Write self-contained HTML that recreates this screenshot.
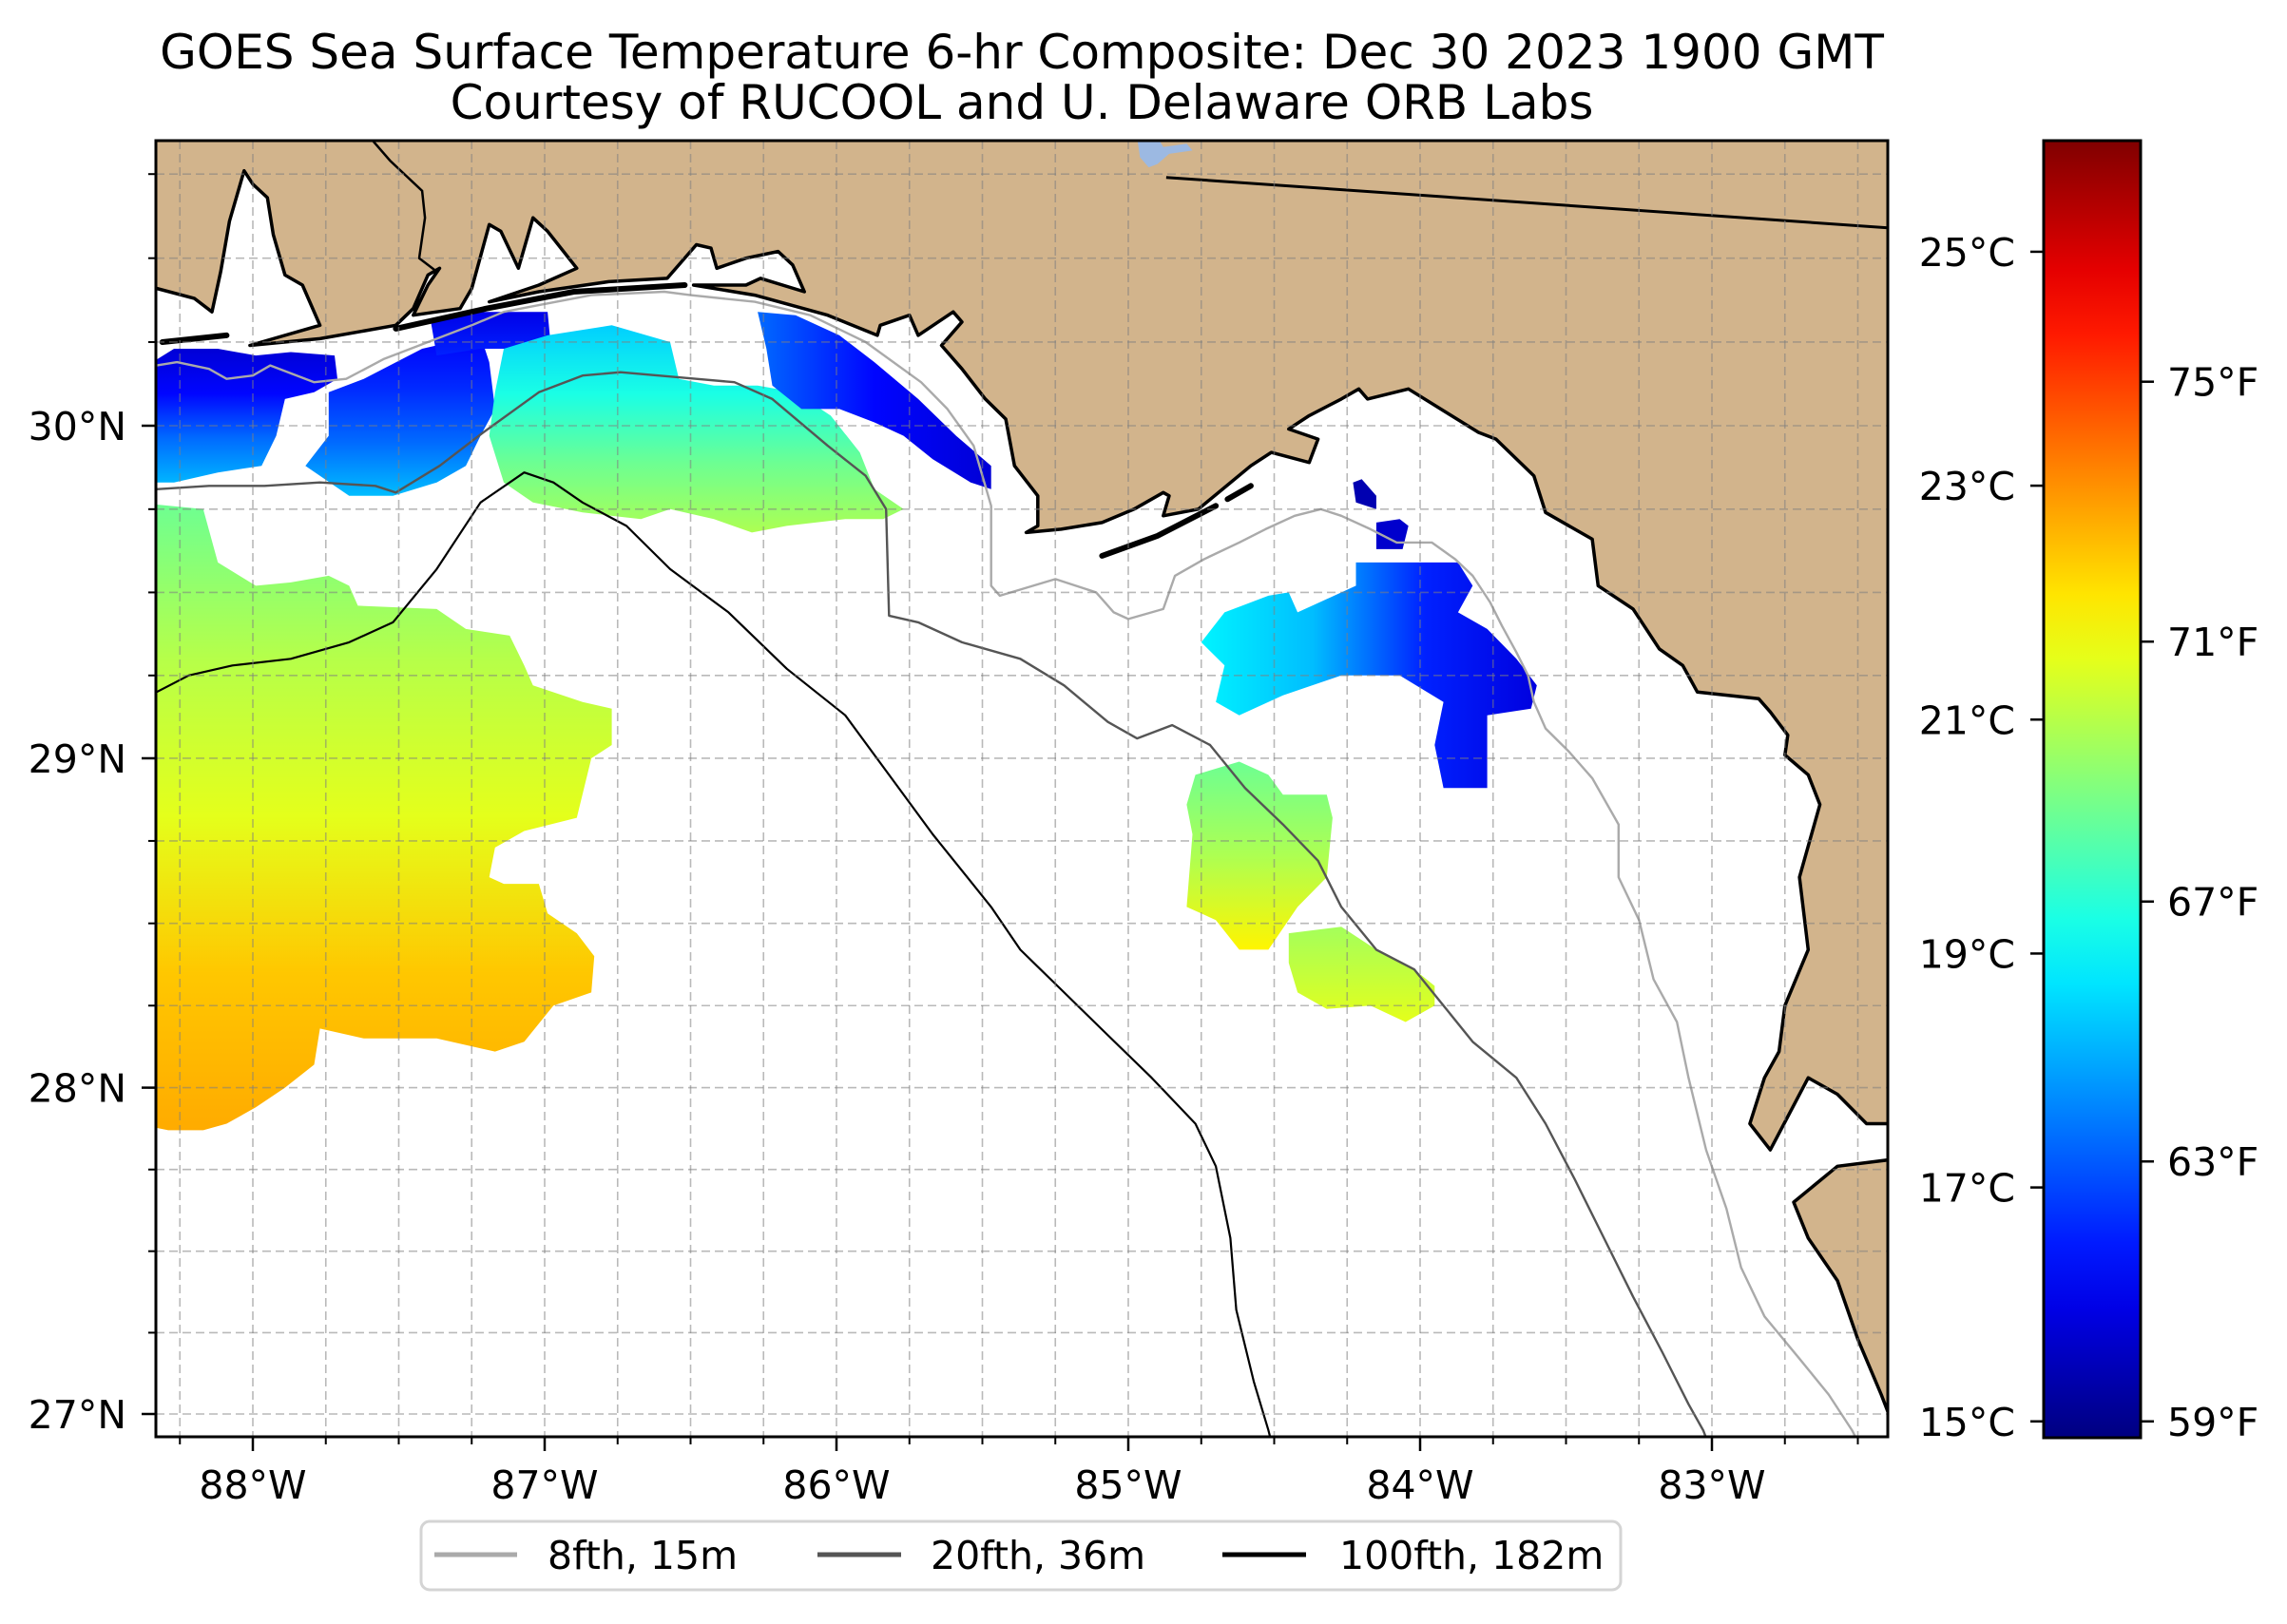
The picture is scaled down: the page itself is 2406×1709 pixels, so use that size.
<!DOCTYPE html>
<html><head><meta charset="utf-8"><style>
html,body{margin:0;padding:0;background:#fff}
svg text{font-family:"DejaVu Sans","Liberation Sans",sans-serif;fill:#000}
</style></head><body>
<svg id="chart" width="2406" height="1704" viewBox="0 0 2406 1704" xmlns="http://www.w3.org/2000/svg">
<defs>
<clipPath id="mapclip"><rect x="164" y="148" width="1822" height="1364"/></clipPath>
</defs>
<text x="1075" y="72" font-size="50" text-anchor="middle">GOES Sea Surface Temperature 6-hr Composite: Dec 30 2023 1900 GMT</text>
<text x="1075" y="125" font-size="50" text-anchor="middle">Courtesy of RUCOOL and U. Delaware ORB Labs</text>
<g id="map" clip-path="url(#mapclip)"></g>
<g id="axes"></g>
<g id="cbar"></g>
<g id="legend">
<rect x="443" y="1601" width="1262" height="72" rx="9" fill="#fff" stroke="#d4d4d4" stroke-width="3"/>
<g><line x1="457" y1="1636" x2="544" y2="1636" stroke="#aaaaaa" stroke-width="5"/><text x="576" y="1651" font-size="41">8fth, 15m</text></g>
<g><line x1="860" y1="1636" x2="948" y2="1636" stroke="#555555" stroke-width="5"/><text x="979" y="1651" font-size="41">20fth, 36m</text></g>
<g><line x1="1286" y1="1636" x2="1374" y2="1636" stroke="#000000" stroke-width="5"/><text x="1409" y="1651" font-size="41">100fth, 182m</text></g>
</g>
</svg>
<script>
// ---- data ----
const lonTicks = [-88, -87, -86, -85, -84, -83];
const lonTickLabels = ["88°W","87°W","86°W","85°W","84°W","83°W"];
const latTicks = [27, 28, 29, 30];
const latTickLabels = ["27°N","28°N","29°N","30°N"];
const cTicks = [15, 17, 19, 21, 23, 25];
const cTickLabels = ["15°C","17°C","19°C","21°C","23°C","25°C"];
const fTicks = [59, 63, 67, 71, 75];
const fTickLabels = ["59°F","63°F","67°F","71°F","75°F"];
const cRange = [14.86, 25.95];

const coastMain = [[-88.33,30.41],[-88.20,30.38],[-88.14,30.34],[-88.11,30.46],[-88.08,30.61],[-88.03,30.76],[-88.00,30.72],[-87.95,30.68],[-87.93,30.57],[-87.89,30.45],[-87.83,30.42],[-87.77,30.30],[-88.01,30.24],[-87.77,30.26],[-87.51,30.30],[-87.45,30.35],[-87.40,30.45],[-87.36,30.47],[-87.40,30.42],[-87.45,30.33],[-87.29,30.35],[-87.25,30.41],[-87.19,30.60],[-87.15,30.58],[-87.09,30.47],[-87.04,30.62],[-86.99,30.58],[-86.89,30.47],[-87.02,30.42],[-87.19,30.37],[-87.02,30.40],[-86.78,30.43],[-86.58,30.44],[-86.48,30.54],[-86.43,30.53],[-86.41,30.47],[-86.31,30.50],[-86.20,30.52],[-86.15,30.48],[-86.11,30.40],[-86.26,30.44],[-86.31,30.42],[-86.49,30.42],[-86.28,30.39],[-86.03,30.33],[-85.86,30.27],[-85.85,30.30],[-85.75,30.33],[-85.72,30.27],[-85.60,30.34],[-85.57,30.31],[-85.64,30.24],[-85.57,30.17],[-85.49,30.08],[-85.42,30.02],[-85.39,29.88],[-85.31,29.79],[-85.31,29.70],[-85.35,29.68],[-85.23,29.69],[-85.09,29.71],[-84.98,29.75],[-84.88,29.80],[-84.86,29.79],[-84.88,29.73],[-84.76,29.75],[-84.58,29.88],[-84.51,29.92],[-84.38,29.89],[-84.35,29.96],[-84.45,29.99],[-84.38,30.03],[-84.27,30.08],[-84.21,30.11],[-84.18,30.08],[-84.04,30.11],[-83.80,29.98],[-83.74,29.96],[-83.61,29.85],[-83.57,29.74],[-83.41,29.66],[-83.39,29.52],[-83.27,29.45],[-83.18,29.33],[-83.10,29.28],[-83.05,29.20],[-82.84,29.18],[-82.80,29.14],[-82.74,29.07],[-82.75,29.01],[-82.67,28.95],[-82.63,28.86],[-82.70,28.64],[-82.67,28.42],[-82.75,28.25],[-82.77,28.11],[-82.82,28.03],[-82.87,27.89],[-82.80,27.81],[-82.67,28.03],[-82.57,27.98],[-82.47,27.89],[-82.39,27.89],[-82.39,30.9],[-88.4,30.9],[-88.4,30.41]];
const coastSouth = [[-82.39,27.78],[-82.57,27.76],[-82.72,27.65],[-82.67,27.54],[-82.57,27.41],[-82.50,27.23],[-82.42,27.06],[-82.39,26.99],[-82.35,26.9],[-82.35,27.78]];
const islands = [
 [[-88.31,30.25],[-88.09,30.27]],
 [[-87.51,30.29],[-87.20,30.35],[-86.90,30.40],[-86.52,30.42]],
 [[-85.09,29.61],[-84.90,29.67],[-84.70,29.76]],
 [[-84.66,29.78],[-84.58,29.82]]
];
const stateLineAL = [[-87.60,30.86],[-87.53,30.79],[-87.42,30.70],[-87.41,30.62],[-87.43,30.50],[-87.37,30.46]];
const stateLineGA = [[-84.87,30.74],[-82.39,30.59]];
const lakeSeminole = [[-84.97,30.86],[-84.90,30.86],[-84.88,30.83],[-84.80,30.84],[-84.78,30.82],[-84.86,30.81],[-84.90,30.78],[-84.93,30.77],[-84.96,30.80]];

const iso8 = [[-88.33,30.18],[-88.26,30.19],[-88.15,30.17],[-88.09,30.14],[-88.00,30.15],[-87.94,30.18],[-87.79,30.13],[-87.68,30.14],[-87.55,30.20],[-87.40,30.25],[-87.25,30.30],[-87.14,30.34],[-87.02,30.36],[-86.84,30.39],[-86.59,30.40],[-86.50,30.39],[-86.28,30.37],[-86.09,30.33],[-85.90,30.25],[-85.71,30.13],[-85.62,30.05],[-85.53,29.94],[-85.47,29.76],[-85.47,29.52],[-85.44,29.49],[-85.25,29.54],[-85.11,29.50],[-85.05,29.44],[-85.00,29.42],[-84.88,29.45],[-84.84,29.55],[-84.74,29.60],[-84.62,29.65],[-84.53,29.69],[-84.43,29.73],[-84.34,29.75],[-84.27,29.73],[-84.17,29.69],[-84.08,29.65],[-83.96,29.65],[-83.88,29.60],[-83.82,29.55],[-83.76,29.47],[-83.72,29.40],[-83.67,29.32],[-83.63,29.25],[-83.61,29.17],[-83.57,29.09],[-83.49,29.02],[-83.41,28.94],[-83.32,28.80],[-83.32,28.64],[-83.25,28.51],[-83.20,28.33],[-83.12,28.20],[-83.08,28.03],[-83.02,27.81],[-82.95,27.63],[-82.90,27.45],[-82.82,27.30],[-82.70,27.17],[-82.60,27.06],[-82.52,26.95],[-82.48,26.88]];
const iso20 = [[-88.33,29.81],[-88.15,29.82],[-87.96,29.82],[-87.77,29.83],[-87.58,29.82],[-87.51,29.80],[-87.36,29.88],[-87.21,29.98],[-87.02,30.10],[-86.87,30.15],[-86.74,30.16],[-86.48,30.14],[-86.35,30.13],[-86.22,30.08],[-86.03,29.94],[-85.90,29.85],[-85.83,29.75],[-85.82,29.43],[-85.72,29.41],[-85.57,29.35],[-85.37,29.30],[-85.22,29.22],[-85.07,29.11],[-84.97,29.06],[-84.85,29.10],[-84.72,29.04],[-84.60,28.91],[-84.47,28.80],[-84.35,28.69],[-84.27,28.55],[-84.15,28.42],[-84.02,28.36],[-83.92,28.25],[-83.82,28.14],[-83.67,28.03],[-83.57,27.89],[-83.47,27.72],[-83.37,27.54],[-83.27,27.36],[-83.17,27.19],[-83.08,27.03],[-83.03,26.95],[-83.00,26.88]];
const iso100 = [[-88.40,29.18],[-88.33,29.20],[-88.22,29.25],[-88.07,29.28],[-87.87,29.30],[-87.67,29.35],[-87.52,29.41],[-87.37,29.57],[-87.22,29.77],[-87.07,29.86],[-86.97,29.83],[-86.87,29.77],[-86.72,29.70],[-86.57,29.57],[-86.37,29.44],[-86.17,29.27],[-85.97,29.13],[-85.82,28.95],[-85.67,28.77],[-85.47,28.55],[-85.37,28.42],[-85.22,28.29],[-85.07,28.16],[-84.92,28.03],[-84.77,27.89],[-84.70,27.76],[-84.65,27.54],[-84.63,27.32],[-84.57,27.10],[-84.52,26.95],[-84.50,26.88]];

// SST patches: outline (lon,lat), temps (°C gradient stops), direction
const patchA = [[-88.40,29.77],[-88.17,29.75],[-88.12,29.59],[-87.99,29.52],[-87.87,29.53],[-87.74,29.55],[-87.67,29.52],[-87.64,29.46],[-87.37,29.45],[-87.27,29.39],[-87.12,29.37],[-87.07,29.28],[-87.04,29.22],[-86.87,29.17],[-86.77,29.15],[-86.77,29.04],[-86.84,29.00],[-86.89,28.82],[-87.07,28.78],[-87.17,28.73],[-87.19,28.64],[-87.14,28.62],[-87.02,28.62],[-86.99,28.53],[-86.89,28.47],[-86.83,28.40],[-86.84,28.29],[-86.97,28.25],[-87.07,28.14],[-87.17,28.11],[-87.37,28.15],[-87.62,28.15],[-87.77,28.18],[-87.79,28.07],[-87.89,28.00],[-87.99,27.94],[-88.09,27.89],[-88.17,27.87],[-88.29,27.87],[-88.40,27.89]];
const patchC = [[-88.27,30.23],[-88.12,30.23],[-87.99,30.21],[-87.87,30.22],[-87.72,30.21],[-87.71,30.14],[-87.79,30.10],[-87.89,30.08],[-87.92,29.97],[-87.97,29.88],[-88.12,29.86],[-88.27,29.83],[-88.40,29.83],[-88.40,30.16]];
const patchD = [[-87.74,30.10],[-87.62,30.14],[-87.42,30.23],[-87.22,30.27],[-87.19,30.19],[-87.17,30.05],[-87.22,29.97],[-87.27,29.88],[-87.37,29.83],[-87.52,29.79],[-87.67,29.79],[-87.82,29.88],[-87.74,29.97]];
const patchE = [[-87.39,30.31],[-87.22,30.34],[-86.99,30.34],[-86.98,30.25],[-87.09,30.23],[-87.22,30.23],[-87.37,30.21]];
const patchF = [[-87.14,30.23],[-86.99,30.27],[-86.77,30.30],[-86.57,30.25],[-86.54,30.14],[-86.42,30.12],[-86.27,30.12],[-86.14,30.10],[-86.02,30.03],[-85.92,29.92],[-85.87,29.81],[-85.77,29.75],[-85.84,29.72],[-85.97,29.72],[-86.17,29.70],[-86.29,29.68],[-86.42,29.72],[-86.57,29.75],[-86.67,29.72],[-86.87,29.74],[-87.04,29.77],[-87.14,29.83],[-87.19,29.97],[-87.17,30.10]];
const patchG = [[-86.27,30.34],[-86.14,30.33],[-85.99,30.27],[-85.87,30.19],[-85.72,30.08],[-85.59,29.97],[-85.47,29.88],[-85.47,29.81],[-85.54,29.83],[-85.67,29.90],[-85.77,29.97],[-85.87,30.01],[-85.99,30.05],[-86.12,30.05],[-86.22,30.12],[-86.24,30.23]];
const patchH1 = [[-84.23,29.83],[-84.20,29.84],[-84.15,29.79],[-84.15,29.75],[-84.22,29.77]];
const patchH2 = [[-84.15,29.71],[-84.07,29.72],[-84.04,29.70],[-84.06,29.63],[-84.15,29.63]];
const patchI = [[-84.22,29.59],[-83.87,29.59],[-83.82,29.52],[-83.87,29.44],[-83.77,29.39],[-83.67,29.30],[-83.60,29.22],[-83.62,29.15],[-83.77,29.13],[-83.77,28.91],[-83.92,28.91],[-83.95,29.04],[-83.92,29.17],[-84.07,29.25],[-84.27,29.25],[-84.47,29.19],[-84.62,29.13],[-84.70,29.17],[-84.67,29.28],[-84.75,29.35],[-84.67,29.44],[-84.52,29.49],[-84.45,29.50],[-84.42,29.44],[-84.32,29.48],[-84.22,29.52]];
const patchJ = [[-84.77,28.95],[-84.62,28.99],[-84.52,28.95],[-84.47,28.89],[-84.32,28.89],[-84.30,28.82],[-84.32,28.64],[-84.42,28.55],[-84.52,28.42],[-84.62,28.42],[-84.70,28.51],[-84.80,28.55],[-84.78,28.77],[-84.80,28.86]];
const patchK = [[-84.45,28.47],[-84.27,28.49],[-84.15,28.42],[-84.02,28.36],[-83.95,28.31],[-83.95,28.25],[-84.05,28.20],[-84.17,28.25],[-84.32,28.24],[-84.42,28.29],[-84.45,28.38]];
const patchTemps = {A:[20.2,21.0,21.5,22.4,22.7],C:[15.8,16.3,17.4,18.2],D:[16.2,16.7,17.4,18.3],E:[16.0,16.6],F:[18.5,19.3,20.2,20.9],G:[17.4,16.3,15.8],H1:[15.4],H2:[15.7],I:[18.9,18.3,16.6,15.9],J:[20.2,20.9,21.9],K:[20.8,21.5]};

// ---- projection ----
const X0 = 266, PXLON = 307;
function merc(lat){const t=Math.tan(lat*Math.PI/180);return Math.asinh(t);}
const K = 1040/(merc(30)-merc(27));
function xs(lon){return X0+(lon+88)*PXLON;}
function ys(lat){return 1488-(merc(lat)-merc(27))*K;}
function jet(t){t=Math.max(0,Math.min(1,t));const c=v=>Math.round(255*Math.max(0,Math.min(1,v)));
 return `rgb(${c(1.5-Math.abs(4*t-3))},${c(1.5-Math.abs(4*t-2))},${c(1.5-Math.abs(4*t-1))})`;}
function tcol(c){return jet((c-cRange[0])/(cRange[1]-cRange[0]));}
const NS="http://www.w3.org/2000/svg";
function mk(tag,attrs,parent){const e=document.createElementNS(NS,tag);for(const k in attrs)e.setAttribute(k,attrs[k]);parent.appendChild(e);return e;}
function pts(arr){return arr.map(p=>xs(p[0]).toFixed(1)+","+ys(p[1]).toFixed(1)).join(" ");}

const svg=document.getElementById('chart');
const defs=svg.querySelector('defs');
const map=document.getElementById('map');
const axes=document.getElementById('axes');
const cbar=document.getElementById('cbar');

let bg=mk('rect',{x:164,y:148,width:1822,height:1364,fill:'#fff'},map);



const patchList=[['A',patchA,'v'],['C',patchC,'v'],['D',patchD,'v'],['E',patchE,'v'],['F',patchF,'v'],['G',patchG,'h'],['H1',patchH1,'v'],['H2',patchH2,'v'],['I',patchI,'h'],['J',patchJ,'v'],['K',patchK,'v']];
patchList.forEach(([id,arr,dir])=>{
 const temps=patchTemps[id];
 const g=mk('linearGradient',{id:'grad'+id,x1:0,y1:0,x2:dir==='h'?1:0,y2:dir==='h'?0:1},defs);
 temps.forEach((t,i)=>{mk('stop',{offset:temps.length>1?i/(temps.length-1):0,'stop-color':tcol(t)},g);});
 const p=mk('polygon',{points:pts(arr),fill:`url(#grad${id})`},map);
 
 
});

[[iso8,'#aaaaaa',2.4,'isobath-8fth'],[iso20,'#555555',2.4,'isobath-20fth'],[iso100,'#000000',2.2,'isobath-100fth']].forEach(([arr,col,w,name])=>{
 const l=mk('polyline',{points:pts(arr),fill:'none',stroke:col,'stroke-width':w,'stroke-linejoin':'round'},map);
 
 
});

[[coastMain,'land-mainland'],[coastSouth,'land-south-florida']].forEach(([arr,name])=>{
 const l=mk('polygon',{points:pts(arr),fill:'#d2b48c',stroke:'#000','stroke-width':3.5,'stroke-linejoin':'round'},map);
 
 
});
islands.forEach((arr,i)=>{
 const l=mk('polyline',{points:pts(arr),fill:'none',stroke:'#000','stroke-width':6,'stroke-linecap':'round'},map);
 
 
});
let lk=mk('polygon',{points:pts(lakeSeminole),fill:'#9cb9e2'},map);


[[stateLineAL,2.5,'state-border-al-fl'],[stateLineGA,3,'state-border-ga-fl']].forEach(([arr,w,name])=>{
 const l=mk('polyline',{points:pts(arr),fill:'none',stroke:'#000','stroke-width':w},map);
 
 
});

for(let lon=-88.25;lon<=-82.4;lon+=0.25){
 const x=xs(lon);
 const l=mk('line',{x1:x,y1:148,x2:x,y2:1512,stroke:'rgba(128,128,128,0.55)','stroke-width':1.6,'stroke-dasharray':'9,5'},map);
 
 
}
for(let lat=27;lat<=30.85;lat+=0.25){
 const y=ys(lat);
 const l=mk('line',{x1:164,y1:y,x2:1986,y2:y,stroke:'rgba(128,128,128,0.55)','stroke-width':1.6,'stroke-dasharray':'9,5'},map);
 
 
}

let fr=mk('rect',{x:164,y:148,width:1822,height:1364,fill:'none',stroke:'#000','stroke-width':3},axes);


for(let lon=-88.25;lon<=-82.4;lon+=0.25){
 const x=xs(lon);
 const t=mk('line',{x1:x,y1:1512,x2:x,y2:1520,stroke:'#000','stroke-width':2},axes);
 
 
}
for(let lat=27;lat<=30.85;lat+=0.25){
 const y=ys(lat);
 const t=mk('line',{x1:156,y1:y,x2:164,y2:y,stroke:'#000','stroke-width':2},axes);
 
 
}
lonTicks.forEach((lon,i)=>{
 const x=xs(lon);
 const t=mk('line',{x1:x,y1:1512,x2:x,y2:1527,stroke:'#000','stroke-width':2.5},axes);
 
 
 const tx=mk('text',{x:x,y:1577,'font-size':41,'text-anchor':'middle'},axes);
 tx.textContent=lonTickLabels[i];
 
 
});
latTicks.forEach((lat,i)=>{
 const y=ys(lat);
 const t=mk('line',{x1:149,y1:y,x2:164,y2:y,stroke:'#000','stroke-width':2.5},axes);
 
 
 const tx=mk('text',{x:133,y:y+15,'font-size':41,'text-anchor':'end'},axes);
 tx.textContent=latTickLabels[i];
 
 
});

const CB={x:2150,w:102,top:148,bot:1513};
function cy(c){return CB.bot-(c-cRange[0])/(cRange[1]-cRange[0])*(CB.bot-CB.top);}
const cg=mk('linearGradient',{id:'jetgrad',x1:0,y1:1,x2:0,y2:0},defs);
for(let i=0;i<=20;i++){mk('stop',{offset:i/20,'stop-color':jet(i/20)},cg);}
let cr=mk('rect',{x:CB.x,y:CB.top,width:CB.w,height:CB.bot-CB.top,fill:'url(#jetgrad)',stroke:'#000','stroke-width':3},cbar);


cTicks.forEach((c,i)=>{
 const y=cy(c);
 const t=mk('line',{x1:CB.x-14,y1:y,x2:CB.x,y2:y,stroke:'#000','stroke-width':2.5},cbar);
 
 
 const tx=mk('text',{x:2120,y:y+15,'font-size':41,'text-anchor':'end'},cbar);
 tx.textContent=cTickLabels[i];
 
 
});
fTicks.forEach((f,i)=>{
 const y=cy((f-32)*5/9);
 const t=mk('line',{x1:CB.x+CB.w,y1:y,x2:CB.x+CB.w+14,y2:y,stroke:'#000','stroke-width':2.5},cbar);
 
 
 const tx=mk('text',{x:2280,y:y+15,'font-size':41,'text-anchor':'start'},cbar);
 tx.textContent=fTickLabels[i];
 
 
});
</script>
</body></html>
